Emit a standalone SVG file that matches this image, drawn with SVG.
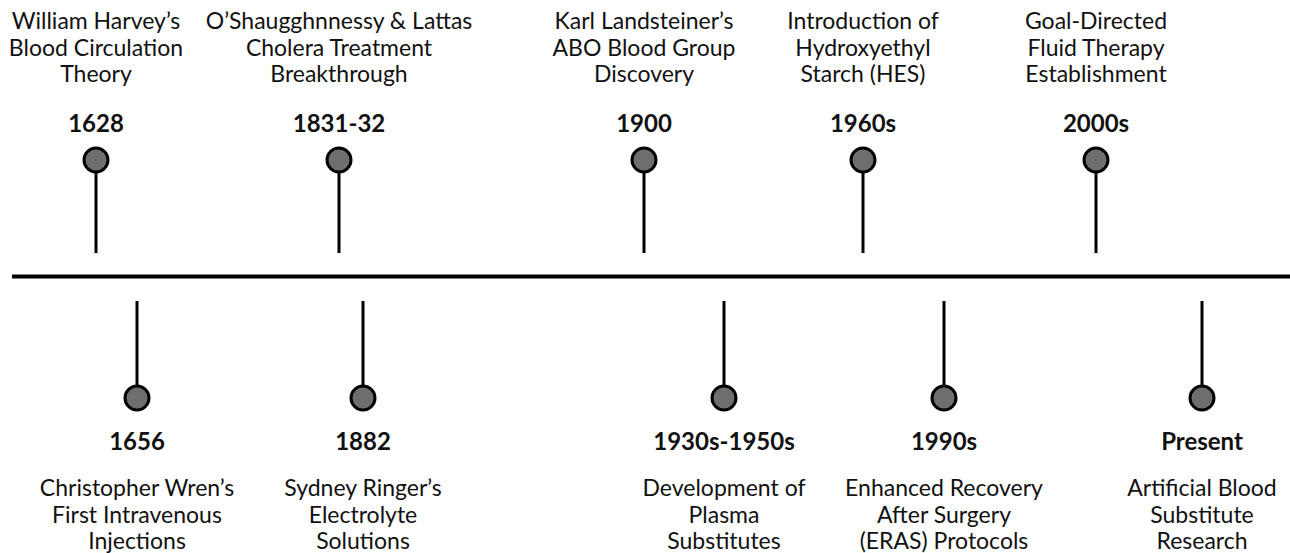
<svg xmlns="http://www.w3.org/2000/svg" width="1290" height="553" viewBox="0 0 1290 553">
<style>
.lbl{font-family:Lato,"Liberation Sans",sans-serif;font-size:23px;fill:#111;text-anchor:middle}
.yr{font-family:Lato,"Liberation Sans",sans-serif;font-size:24px;font-weight:bold;fill:#111;text-anchor:middle}
.dot{fill:#6e6e6e;stroke:#000;stroke-width:3}
.stem{stroke:#000;stroke-width:3}
</style>
<rect width="1290" height="553" fill="#fff"/>
<g id="connectors">
<line x1="12" y1="276.5" x2="1290" y2="276.5" stroke="#000" stroke-width="4"/>
<line class="stem" x1="96" y1="160" x2="96" y2="253"/>
<line class="stem" x1="339" y1="160" x2="339" y2="253"/>
<line class="stem" x1="644" y1="160" x2="644" y2="253"/>
<line class="stem" x1="863" y1="160" x2="863" y2="253"/>
<line class="stem" x1="1096" y1="160" x2="1096" y2="253"/>
<line class="stem" x1="137" y1="301" x2="137" y2="398"/>
<line class="stem" x1="363" y1="301" x2="363" y2="398"/>
<line class="stem" x1="724" y1="301" x2="724" y2="398"/>
<line class="stem" x1="944" y1="301" x2="944" y2="398"/>
<line class="stem" x1="1202" y1="301" x2="1202" y2="398"/>
</g>
<g id="n1628">
<text class="lbl" x="96" y="29">William Harvey’s</text>
<text class="lbl" x="96" y="55.5">Blood Circulation</text>
<text class="lbl" x="96" y="82">Theory</text>
<text class="yr" x="96" y="132">1628</text>
<circle class="dot" cx="96" cy="160" r="12"/>
</g>
<g id="n1831">
<text class="lbl" x="339" y="29">O’Shaugghnnessy &amp; Lattas</text>
<text class="lbl" x="339" y="55.5">Cholera Treatment</text>
<text class="lbl" x="339" y="82">Breakthrough</text>
<text class="yr" x="339" y="132">1831-32</text>
<circle class="dot" cx="339" cy="160" r="12"/>
</g>
<g id="n1900">
<text class="lbl" x="644" y="29">Karl Landsteiner’s</text>
<text class="lbl" x="644" y="55.5">ABO Blood Group</text>
<text class="lbl" x="644" y="82">Discovery</text>
<text class="yr" x="644" y="132">1900</text>
<circle class="dot" cx="644" cy="160" r="12"/>
</g>
<g id="n1960s">
<text class="lbl" x="863" y="29">Introduction of</text>
<text class="lbl" x="863" y="55.5">Hydroxyethyl</text>
<text class="lbl" x="863" y="82">Starch (HES)</text>
<text class="yr" x="863" y="132">1960s</text>
<circle class="dot" cx="863" cy="160" r="12"/>
</g>
<g id="n2000s">
<text class="lbl" x="1096" y="29">Goal-Directed</text>
<text class="lbl" x="1096" y="55.5">Fluid Therapy</text>
<text class="lbl" x="1096" y="82">Establishment</text>
<text class="yr" x="1096" y="132">2000s</text>
<circle class="dot" cx="1096" cy="160" r="12"/>
</g>
<g id="n1656">
<circle class="dot" cx="137" cy="398" r="12"/>
<text class="yr" x="137" y="450">1656</text>
<text class="lbl" x="137" y="496">Christopher Wren’s</text>
<text class="lbl" x="137" y="522.5">First Intravenous</text>
<text class="lbl" x="137" y="549">Injections</text>
</g>
<g id="n1882">
<circle class="dot" cx="363" cy="398" r="12"/>
<text class="yr" x="363" y="450">1882</text>
<text class="lbl" x="363" y="496">Sydney Ringer’s</text>
<text class="lbl" x="363" y="522.5">Electrolyte</text>
<text class="lbl" x="363" y="549">Solutions</text>
</g>
<g id="n1930s">
<circle class="dot" cx="724" cy="398" r="12"/>
<text class="yr" x="724" y="450">1930s-1950s</text>
<text class="lbl" x="724" y="496">Development of</text>
<text class="lbl" x="724" y="522.5">Plasma</text>
<text class="lbl" x="724" y="549">Substitutes</text>
</g>
<g id="n1990s">
<circle class="dot" cx="944" cy="398" r="12"/>
<text class="yr" x="944" y="450">1990s</text>
<text class="lbl" x="944" y="496">Enhanced Recovery</text>
<text class="lbl" x="944" y="522.5">After Surgery</text>
<text class="lbl" x="944" y="549">(ERAS) Protocols</text>
</g>
<g id="nPresent">
<circle class="dot" cx="1202" cy="398" r="12"/>
<text class="yr" x="1202" y="450">Present</text>
<text class="lbl" x="1202" y="496">Artificial Blood</text>
<text class="lbl" x="1202" y="522.5">Substitute</text>
<text class="lbl" x="1202" y="549">Research</text>
</g>
</svg>
